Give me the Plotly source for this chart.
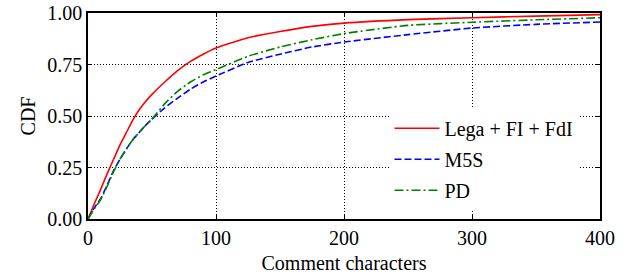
import plotly.graph_objects as go

chars = [0, 5, 10, 15, 20, 25, 30, 35, 40, 45, 50, 60, 70, 80, 90, 100, 125, 150, 175, 200, 250, 300, 350, 400]
cdf_lega = [0, 0.075, 0.145, 0.22, 0.29, 0.36, 0.42, 0.48, 0.53, 0.57, 0.605, 0.665, 0.72, 0.765, 0.80, 0.83, 0.88, 0.91, 0.935, 0.951, 0.968, 0.977, 0.985, 0.992]
cdf_m5s = [0, 0.055, 0.10, 0.165, 0.235, 0.29, 0.34, 0.385, 0.42, 0.455, 0.485, 0.54, 0.587, 0.63, 0.665, 0.694, 0.76, 0.80, 0.835, 0.859, 0.895, 0.927, 0.945, 0.956]
cdf_pd = [0, 0.05, 0.095, 0.16, 0.23, 0.29, 0.34, 0.385, 0.42, 0.455, 0.485, 0.56, 0.62, 0.665, 0.70, 0.725, 0.79, 0.835, 0.87, 0.90, 0.94, 0.955, 0.967, 0.977]

series_names = ["Lega + FI + FdI", "M5S", "PD"]
series_vals = [cdf_lega, cdf_m5s, cdf_pd]
colors = ["#ff0000", "#0000ff", "#008000"]
dashes = ["solid", "7px,3px", "9px,3px,2px,3px"]

x_ticks = [0, 100, 200, 300, 400]
y_ticks = [0, 0.25, 0.5, 0.75, 1.0]

font = "Liberation Serif"
fsize = 20

fig = go.Figure()
for i, (name, vals) in enumerate(zip(series_names, series_vals)):
    fig.add_trace(go.Scatter(
        x=chars, y=vals, mode="lines", name=name, legendgroup=f"g{i}",
        line=dict(color=colors[i], width=1.6, dash=dashes[i], shape="spline", smoothing=0.5),
    ))

axis_common = dict(
    showline=True, linecolor="black", linewidth=1.5, mirror="ticks",
    ticks="inside", ticklen=4, tickwidth=1.2, tickcolor="black",
    showgrid=True, gridcolor="black", gridwidth=1, griddash="1px,2px",
    zeroline=False, automargin=False,
    tickfont=dict(family=font, size=fsize, color="black"),
)

fig.update_layout(
    width=631, height=278,
    margin=dict(l=88, r=31, t=13, b=59, autoexpand=False),
    paper_bgcolor="white", plot_bgcolor="white",
    font=dict(family=font, size=fsize, color="black"),
    xaxis=dict(range=[0, 400], tickvals=x_ticks,
               title=dict(text="Comment characters", standoff=8, font=dict(family=font, size=fsize)),
               **axis_common),
    yaxis=dict(range=[0, 1], tickvals=y_ticks, tickformat=".2f",
               title=dict(text="CDF", standoff=6, font=dict(family=font, size=fsize)),
               **axis_common),
    legend=dict(x=0.958, y=0.045, xanchor="right", yanchor="bottom",
                bgcolor="white", borderwidth=0, font=dict(family=font, size=fsize),
                tracegroupgap=2, itemwidth=45, traceorder="grouped"),
    showlegend=True,
)

fig.write_html("out.html", post_script="document.body.style.margin='0';",
               config={"displayModeBar": False})
